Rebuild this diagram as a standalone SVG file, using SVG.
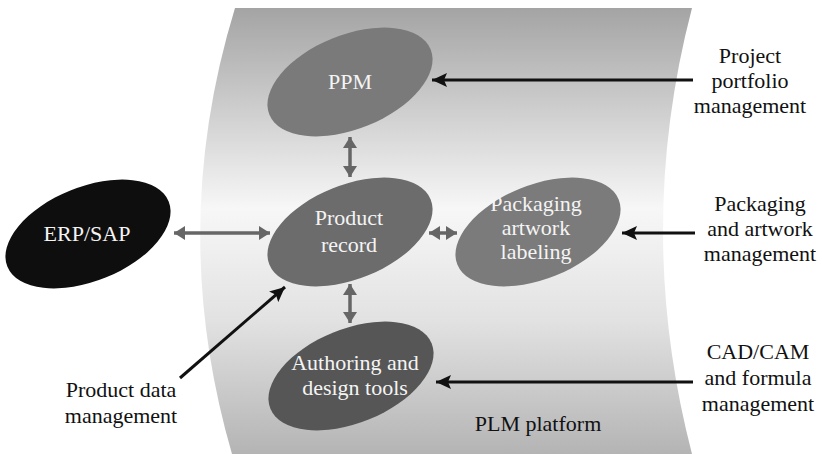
<svg xmlns="http://www.w3.org/2000/svg" width="822" height="454" viewBox="0 0 822 454">
<defs>
<linearGradient id="band" x1="0" y1="0" x2="0" y2="1">
<stop offset="0" stop-color="#a4a4a4"/>
<stop offset="0.25" stop-color="#d2d2d2"/>
<stop offset="0.45" stop-color="#f7f7f7"/>
<stop offset="0.7" stop-color="#e2e2e2"/>
<stop offset="1" stop-color="#b4b4b4"/>
</linearGradient>
<marker id="blk" markerUnits="userSpaceOnUse" markerWidth="16" markerHeight="14" refX="15" refY="7" orient="auto">
<path d="M0,0 L15,7 L0,14 L3,7 z" fill="#111"/>
</marker>
<marker id="gry" markerUnits="userSpaceOnUse" markerWidth="12" markerHeight="14" refX="11" refY="7" orient="auto-start-reverse">
<path d="M0,0 L11,7 L0,14 z" fill="#666"/>
</marker>
</defs>
<style>
.t{font-family:"Liberation Serif","DejaVu Serif",serif;font-size:22px;text-anchor:middle}
.w{fill:#f4f4f4}
.k{fill:#111}
.dbl{stroke:#666;stroke-width:3.5;fill:none;marker-start:url(#gry);marker-end:url(#gry)}
.one{stroke:#111;stroke-width:3;fill:none;marker-end:url(#blk)}
</style>
<rect width="822" height="454" fill="#fff"/>
<g id="platform">
<path d="M235,8 Q167,230 232,454 L692,454 Q634,230 692,8 Z" fill="url(#band)"/>
<text class="t k" x="538" y="431">PLM platform</text>
</g>
<g id="connectors">
<line class="dbl" x1="174" y1="233" x2="270" y2="233"/>
<line class="dbl" x1="350" y1="137" x2="350" y2="177"/>
<line class="dbl" x1="429" y1="233" x2="457" y2="233"/>
<line class="dbl" x1="350" y1="284" x2="350" y2="323"/>
<line class="one" x1="693" y1="80" x2="432" y2="80"/>
<line class="one" x1="695" y1="233" x2="622" y2="233"/>
<line class="one" x1="693" y1="382" x2="436" y2="382"/>
<line class="one" x1="180" y1="378" x2="285" y2="287"/>
</g>
<g id="ppm">
<ellipse cx="350" cy="82" rx="87" ry="47" transform="rotate(-22 350 82)" fill="#7a7a7a"/>
<text class="t w" x="350" y="89">PPM</text>
</g>
<g id="product-record">
<ellipse cx="350" cy="232" rx="87" ry="47" transform="rotate(-22 350 232)" fill="#6c6c6c"/>
<text class="t w" x="349" y="225">Product</text>
<text class="t w" x="349" y="252">record</text>
</g>
<g id="packaging">
<ellipse cx="538" cy="232" rx="87" ry="47" transform="rotate(-22 538 232)" fill="#7b7b7b"/>
<text class="t w" x="536" y="211">Packaging</text>
<text class="t w" x="536" y="235">artwork</text>
<text class="t w" x="536" y="259">labeling</text>
</g>
<g id="erp-sap">
<ellipse cx="88" cy="234" rx="87" ry="47" transform="rotate(-22 88 234)" fill="#0e0e0e"/>
<text class="t w" x="87" y="241">ERP/SAP</text>
</g>
<g id="authoring">
<ellipse cx="351" cy="376" rx="87" ry="47" transform="rotate(-22 351 376)" fill="#565656"/>
<text class="t w" x="355" y="370">Authoring and</text>
<text class="t w" x="355" y="395">design tools</text>
</g>
<g id="label-ppm">
<text class="t k" x="750" y="63">Project</text>
<text class="t k" x="750" y="88">portfolio</text>
<text class="t k" x="750" y="113">management</text>
</g>
<g id="label-packaging">
<text class="t k" x="760" y="211">Packaging</text>
<text class="t k" x="760" y="236">and artwork</text>
<text class="t k" x="760" y="261">management</text>
</g>
<g id="label-cad">
<text class="t k" x="758" y="359">CAD/CAM</text>
<text class="t k" x="758" y="385">and formula</text>
<text class="t k" x="758" y="411">management</text>
</g>
<g id="label-pdm">
<text class="t k" x="121" y="397">Product data</text>
<text class="t k" x="121" y="423">management</text>
</g>
</svg>
